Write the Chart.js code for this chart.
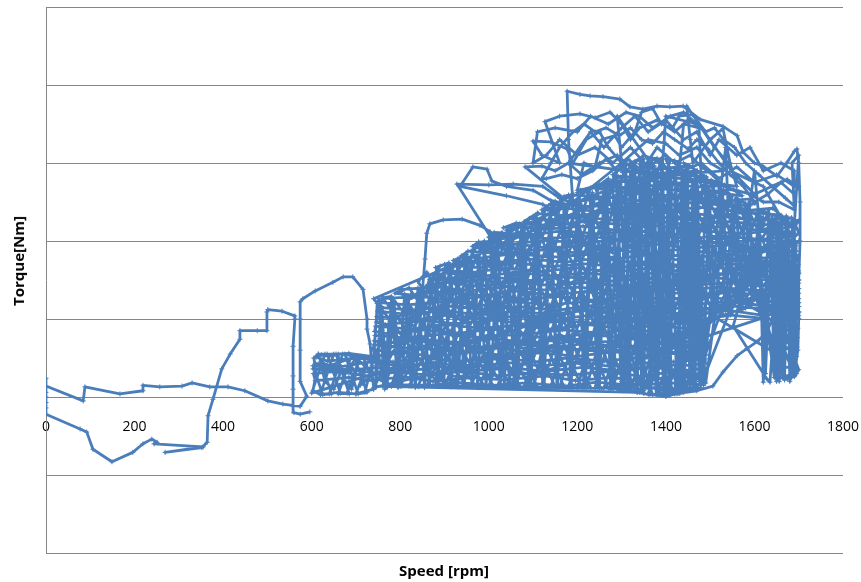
<!DOCTYPE html>
<html>
<head>
<meta charset="utf-8">
<title>Torque vs Speed</title>
<script src="https://cdn.jsdelivr.net/npm/chart.js@4.4.1/dist/chart.umd.min.js"></script>
<style>
    body { margin: 0; background: #fff; }
    .wrap { position: relative; width: 861px; height: 582px; }
    .axis-title {
        position: absolute;
        font: bold 15px 'Open Sans', sans-serif;
        color: #000;
        white-space: nowrap;
    }
    #yTitle { left: 18px; top: 261px; transform: translate(-50%, -50%) rotate(-90deg); }
    #xTitle { left: 444px; top: 570px; transform: translate(-50%, -50%); }
</style>
</head>
<body>
<div class="wrap">
    <canvas id="torqueChart" width="861" height="582"></canvas>
    <div class="axis-title" id="yTitle">Torque[Nm]</div>
    <div class="axis-title" id="xTitle">Speed [rpm]</div>
</div>
<script>
/* ============================
   Speed / torque trace
   ============================ */

const speedTicks = [0, 200, 400, 600, 800, 1000, 1200, 1400, 1600, 1800];
const torqueGrid = [-200, -100, 0, 100, 200, 300, 400, 500];

// [rpm, torque] pairs in drive order
const launchTrace = [
    [596,-19],[574,-22],[560,-20],[558,-12],[558,10],[558,27],[558,65],[562,100],[562,104],[533,110],
    [501,112],[499,109],[499,85],[477,85],[438,85],[438,74],[416,55],[397,36],[377,-3],[366,-24],
    [364,-58],[352,-65],[269,-71],[355,-64],[244,-60],[251,-58],[239,-54],[219,-60],[196,-71],[149,-83],
    [106,-67],[92,-45],[77,-41],[0,-22],[0,-14],[0,-7],[0,0],[0,6],[0,24],[0,14],
    [84,-5],[88,13],[167,4],[219,8],[219,15],[257,13],[307,14],[330,18],[370,13],[411,13],
    [449,8],[501,-5],[535,-9],[574,-12],[589,1],[574,20],[574,60],[574,100],[574,122],[580,126],
    [608,136],[648,147],[671,154],[693,154],[716,138],[725,100],[725,87],[732,68],[736,40],[740,10]
];

const lowBand = [
    [740,10],[700,4],[660,6],[620,3],[603,8],[610,30],[605,50],[615,55],[640,52],[660,55],
    [664,30],[650,10],[630,20],[620,45],[640,40],[680,48],[700,30],[690,10],[670,25],[700,50],
    [720,40],[710,15],[730,25],[740,50],[745,90],[748,120],[752,126],[755,100],[750,60],[760,20],[770,14]
];

const sweepRight = [
    [770,14],[752,118],[765,10],[780,125],[795,12],[810,132],[825,14],[840,140],[855,12],[870,152],
    [885,15],[900,164],[915,13],[930,172],[945,16],[960,180],[975,12],[990,195],[1005,15],[1020,205],
    [1035,14],[1050,212],[1065,16],[1080,220],[1095,12],[1110,228],[1125,14],[1140,238],[1155,12],[1170,244],
    [1185,15],[1200,250],[1215,12],[1230,258],[1245,13],[1260,268],[1275,10],[1290,280],[1305,8],[1320,288],
    [1335,6],[1350,295],[1365,5],[1380,292],[1395,2],[1410,290],[1425,4],[1440,285],[1455,10],[1465,278],
    [1475,20],[1490,268],[1505,105],[1520,258],[1535,110],[1550,250],[1565,115],[1580,245],[1595,120],[1610,238],
    [1625,30],[1640,232],[1650,20],[1660,230],[1668,22],[1676,228],[1684,25],[1690,225],[1695,30]
];

const sweepLeft = [
    [1688,220],[1680,20],[1672,232],[1664,25],[1655,210],[1645,40],[1632,240],[1620,19],[1612,200],[1600,125],
    [1588,250],[1572,112],[1558,255],[1542,105],[1528,262],[1512,100],[1497,270],[1485,15],[1470,282],[1460,19],
    [1448,288],[1436,6],[1422,292],[1408,3],[1392,298],[1378,4],[1362,300],[1346,8],[1330,292],[1314,9],
    [1298,282],[1282,11],[1266,272],[1250,12],[1234,262],[1218,14],[1202,252],[1186,12],[1170,246],[1154,15],
    [1138,236],[1122,13],[1106,226],[1090,16],[1074,218],[1058,12],[1042,210],[1026,15],[1010,200],[994,14],
    [978,185],[962,16],[946,175],[930,13],[914,165],[898,15],[882,152],[866,14],[850,140],[834,12],
    [818,128],[802,14],[786,122],[770,12],[758,116],[745,14]
];

// back-and-forth passes through the dense core, low torque upwards
const corePasses = [
    [745,14],[1335,6],[1362,3],[1400,1],[1428,5],[1468,9],
    [1478,12],[1431,8],[1392,13],[1338,10],[1296,14],[1255,11],
    [765,16],[842,13],[921,19],[1007,15],[1083,18],[1172,14],[1244,19],[1327,15],[1409,18],[1478,16],
    [1486,23],[1416,27],[1356,20],[1277,25],[1196,21],[1127,27],[1036,22],[962,25],[874,20],[806,26],[737,21],[684,25],[608,21],
    [604,30],[657,33],[722,27],[793,32],[866,28],[938,33],[1025,27],[1097,31],[1184,28],[1262,33],[1338,27],[1416,32],[1489,29],
    [1491,37],[1428,33],[1367,39],[1287,34],[1213,38],[1126,33],[1055,37],[968,34],[893,39],[812,33],[744,38],[668,33],[603,36],
    [609,43],[667,39],[732,45],[803,40],[876,44],[955,38],[1043,44],[1118,40],[1204,45],[1277,39],[1362,44],[1436,40],[1490,43],
    [1489,49],[1417,45],[1344,51],[1262,46],[1176,50],[1104,45],[1016,51],[943,46],[857,50],[784,45],[703,50],[636,46],[610,51],
    [622,54],[684,56],[734,52],[806,57],[877,52],[963,58],[1037,53],[1124,57],[1196,52],[1284,58],[1357,53],[1445,57],[1491,54],
    [1490,61],[1423,57],[1336,63],[1263,58],[1177,62],[1103,57],[1016,63],[944,58],[856,62],[783,57],[738,61],
    [741,67],[817,63],[904,69],[976,64],[1064,68],[1137,63],[1226,69],[1296,64],[1384,68],[1455,63],[1492,66],
    [1491,73],[1406,69],[1334,75],[1246,70],[1173,74],[1087,69],[1014,75],[926,70],[853,74],[767,69],[741,72],
    [743,79],[823,75],[896,81],[984,76],[1057,80],[1144,75],[1216,81],[1304,76],[1377,80],[1464,75],[1493,78],
    [1491,85],[1413,81],[1326,87],[1254,82],[1166,86],[1094,81],[1006,87],[934,82],[846,86],[773,81],[742,84],
    [745,91],[824,87],[897,93],[985,88],[1057,92],[1145,87],[1217,93],[1305,88],[1377,92],[1465,87],[1495,90],
    [1497,97],[1406,93],[1334,99],[1246,94],[1174,98],[1086,93],[1014,99],[926,94],[854,98],[766,93],[746,96],
    [747,103],[833,99],[906,105],[993,100],[1066,104],[1153,99],[1226,105],[1313,100],[1386,104],[1473,99],[1546,105],[1633,100],[1700,104],
    [1701,109],[1616,105],[1543,111],[1456,106],[1383,110],[1296,105],[1223,111],[1136,106],[1063,110],[976,105],[903,111],[816,106],[749,110],
    [751,115],[834,111],[906,117],[994,112],[1066,116],[1154,111],[1226,117],[1314,112],[1386,116],[1474,111],[1546,117],[1634,112],[1700,116],
    [1700,121],[1617,117],[1544,123],[1457,118],[1384,122],[1297,117],[1224,123],[1137,118],[1064,122],[977,117],[904,123],[817,118],[753,121],
    [762,126],[843,129],[918,124],[1004,130],[1077,125],[1163,129],[1238,124],[1322,130],[1397,125],[1483,129],[1558,124],[1642,130],[1700,126],
    [1700,133],[1624,130],[1537,135],[1463,131],[1377,136],[1304,130],[1217,135],[1143,131],[1057,136],[983,130],[897,135],[823,131],[788,133],
    [805,138],[884,141],[957,136],[1044,142],[1117,137],[1204,141],[1277,136],[1364,142],[1437,137],[1524,141],[1597,136],[1684,142],[1700,139],
    [1700,146],[1616,142],[1544,147],[1456,143],[1384,148],[1296,142],[1224,147],[1136,143],[1064,148],[976,142],[904,147],[862,144],
    [866,151],[947,148],[1016,153],[1107,149],[1176,154],[1267,148],[1336,153],[1427,149],[1496,154],[1587,148],[1656,153],[1700,150],
    [1700,158],[1613,154],[1547,159],[1453,155],[1387,160],[1293,154],[1227,159],[1133,155],[1067,160],[973,154],[907,159],[873,156],
    [884,163],[963,160],[1036,165],[1123,161],[1196,166],[1283,160],[1356,165],[1443,161],[1516,166],[1603,160],[1676,165],[1699,162],
    [1699,170],[1617,166],[1543,171],[1457,167],[1383,172],[1297,166],[1223,171],[1137,167],[1063,172],[977,166],[914,169],
    [932,175],[1013,172],[1086,177],[1173,173],[1246,178],[1333,172],[1406,177],[1493,173],[1566,178],[1653,172],[1697,175],
    [1696,182],[1617,178],[1543,183],[1457,179],[1383,184],[1297,178],[1223,183],[1137,179],[1063,184],[977,178],[938,181],
    [953,187],[1034,184],[1107,189],[1194,185],[1267,190],[1354,184],[1427,189],[1514,185],[1587,190],[1667,184],[1695,187],
    [1694,194],[1616,190],[1544,195],[1456,191],[1384,196],[1296,190],[1224,195],[1136,191],[1064,196],[983,190],[963,193],
    [977,199],[1053,196],[1126,201],[1213,197],[1286,202],[1373,196],[1446,201],[1533,197],[1606,202],[1690,196],
    [1690,206],[1613,202],[1527,207],[1453,203],[1367,208],[1293,202],[1207,207],[1133,203],[1047,208],[1003,204],
    [1012,211],[1093,208],[1166,213],[1253,209],[1326,214],[1413,208],[1486,213],[1573,209],[1646,214],[1689,210],
    [1688,218],[1607,214],[1533,219],[1447,215],[1373,220],[1287,214],[1213,219],[1127,215],[1053,220],[1033,217],
    [1062,223],[1143,220],[1216,225],[1303,221],[1376,226],[1463,220],[1536,225],[1623,221],[1686,224],
    [1684,230],[1607,226],[1533,231],[1447,227],[1373,232],[1287,226],[1213,231],[1127,227],[1092,229],
    [1112,235],[1193,232],[1266,237],[1353,233],[1426,238],[1513,232],[1586,237],[1660,233],
    [1641,242],[1563,238],[1477,243],[1403,239],[1317,244],[1243,238],[1157,243],[1132,240],
    [1152,247],[1233,244],[1306,249],[1393,245],[1466,250],[1553,244],[1601,248],
    [1592,254],[1507,250],[1433,255],[1347,251],[1273,256],[1187,250],[1166,253],
    [1192,259],[1273,256],[1346,261],[1433,257],[1506,262],[1572,258],
    [1552,266],[1467,262],[1393,267],[1307,263],[1233,268],[1207,265],
    [1242,271],[1323,268],[1396,273],[1483,269],[1532,272],
    [1502,278],[1417,274],[1343,279],[1272,276],
    [1292,283],[1373,280],[1437,285],[1492,282],
    [1471,290],[1397,286],[1333,291],[1302,288],
    [1322,295],[1383,292],[1442,296]
];

// strokes falling to the right, top edge to bottom edge
const fallingStrokes = [
    [740,126],[890,14],[910,14],[760,127],[780,129],[930,14],[950,14],[800,135],[820,140],[970,14],
    [990,14],[840,148],[860,160],[1010,14],[1030,14],[880,166],[900,170],[1050,14],[1070,14],[920,175],
    [940,180],[1090,14],[1110,13],[960,187],[980,196],[1130,13],[1150,13],[1000,205],[1020,209],[1170,13],
    [1190,13],[1040,214],[1060,219],[1210,12],[1230,12],[1080,225],[1100,232],[1250,12],[1270,11],[1120,240],
    [1140,248],[1290,10],[1310,9],[1160,255],[1180,259],[1330,7],[1350,5],[1200,262],[1220,266],[1370,3],
    [1390,2],[1240,270],[1260,275],[1410,3],[1430,5],[1280,285],[1300,295],[1450,8],[1470,13],[1320,300],
    [1340,305],[1490,18],[1510,103],[1360,306],[1380,306],[1530,105],[1550,108],[1400,305],[1420,303],[1570,112],
    [1590,117],[1440,300],[1460,295],[1610,121],[1630,122],[1480,285],[1500,275],[1650,60],[1670,25],[1520,268],
    [1540,262],[1690,26],[1700,35],[1560,255],[1580,248],[1700,100]
];

// strokes rising to the right, bottom edge to top edge
const risingStrokes = [
    [1690,140],[740,12],[890,168],[910,172],[760,14],[780,14],[930,177],[950,183],[800,14],[820,14],
    [970,191],[990,200],[840,14],[860,14],[1010,207],[1030,211],[880,14],[900,14],[1050,216],[1070,222],
    [920,14],[940,14],[1090,228],[1110,236],[960,14],[980,14],[1130,244],[1150,251],[1000,14],[1020,14],
    [1170,257],[1190,260],[1040,14],[1060,14],[1210,264],[1230,268],[1080,14],[1100,13],[1250,272],[1270,280],
    [1120,13],[1140,13],[1290,290],[1310,297],[1160,13],[1180,13],[1330,302],[1350,305],[1200,12],[1220,12],
    [1370,306],[1390,305],[1240,12],[1260,11],[1410,304],[1430,301],[1280,11],[1300,10],[1450,297],[1470,290],
    [1320,8],[1340,6],[1490,280],[1510,271],[1360,4],[1380,3],[1530,265],[1550,258],[1400,2],[1420,4],
    [1570,251],[1590,245],[1440,6],[1460,10],[1610,240],[1630,236],[1480,16],[1500,102],[1650,232],[1670,230],
    [1520,104],[1540,106],[1690,227],[1700,226],[1560,110],[1580,114],[1700,200]
];

const lowWeave = [
    [600,5],[630,55],[650,55],[620,4],[640,4],[670,55],[690,53],[660,4],[680,5],[710,52],
    [730,50],[700,4],[720,6],[745,60],[745,12],[715,52],[695,53],[725,6],[705,4],[675,55],
    [655,55],[685,4],[665,5],[635,55],[615,55],[645,4],[625,3],[603,40]
];

const levelSweeps = [
    [760,30],[850,42],[930,25],[1010,40],[1100,28],[1190,45],[1280,30],[1370,40],[1450,28],[1480,60],[1470,100],
    [1500,110],[1560,125],[1610,110],[1640,70],[1690,60],[1660,80],[1620,135],[1540,128],[1470,70],[1400,60],
    [1320,78],[1240,60],[1160,80],[1080,62],[1000,80],[920,60],[840,75],[770,62],
    [775,100],[860,115],[940,98],[1020,120],[1100,102],[1180,122],[1260,100],[1340,120],[1420,105],[1500,130],
    [1580,140],[1660,115],[1698,120],
    [1700,160],[1640,150],[1570,170],[1500,150],[1420,168],[1340,145],[1260,165],[1180,145],[1100,165],[1020,145],
    [950,162],[880,140],[820,125],
    [900,160],[960,180],[1040,195],[1120,180],[1200,200],[1280,185],[1360,205],[1440,190],[1520,205],[1600,190],
    [1680,200],[1700,210],
    [1690,225],[1620,215],[1550,235],[1480,215],[1400,240],[1330,220],[1260,240],[1190,220],[1120,228],[1050,205],[1000,200],
    [1150,238],[1220,255],[1290,270],[1350,258],[1420,275],[1480,255],[1560,245],[1620,230]
];

const lowerEdge = [
    [1620,230],[1600,190],[1552,91],[1628,23],[1635,19],[1640,60],[1628,103],[1493,78],[1470,60],[1500,106],
    [1642,58],[1660,30],[1674,23],[1690,30],[1680,90],[1640,100],[1628,83],[1606,71],[1583,62],[1561,53],
    [1529,32],[1506,14],[1470,8],[1432,5],[1400,1],[1380,4],[1416,6]
];

const denseColumns = [
    [1300,20],[1310,290],[1318,10],[1326,295],[1334,8],[1342,298],[1350,5],[1358,300],[1366,4],[1374,296],
    [1382,3],[1390,294],[1398,2],[1405,290],[1412,4],
    [1430,5],[1436,285],[1442,8],[1448,282],[1454,12],[1460,278],[1466,18],[1472,270],[1476,20],
    [1490,120],[1620,125],
    [1645,25],[1650,225],[1656,20],[1662,232],[1668,22],[1674,228],[1680,24],[1686,226],[1692,28],
    [1655,24],[1690,30],[1693,40],[1652,36],[1654,48],[1695,52],[1696,64],[1652,60],[1654,72],[1697,76],
    [1698,88],[1650,84],[1648,96],[1700,100]
];

const diagonals = [
    [1690,200],[1560,140],[1480,260],[1350,8],[1150,240],[880,14],[900,165],[1100,12],[1200,250],[1420,5],
    [1450,280],[1300,10],[1280,270],[1050,14],[1000,200],[780,14]
];

const upperTraces = [
    [851,142],[856,177],[860,210],[867,222],[897,227],[940,228],[980,220],[1003,212],[1030,190],
    [1010,200],[928,273],[1000,272],[1055,273],[1122,270],[1160,255],[1180,230],
    [1170,230],[1122,247],[1040,258],[935,270],[964,295],[996,292],[1007,277],[1040,270],[1100,265],[1140,252],[1190,245],
    [1082,295],[1120,296],[1150,290],[1180,300],[1210,285],[1250,300],[1290,310],[1320,295],[1350,310],[1390,300],[1420,285],
    [1530,290],[1500,300],[1470,320],[1430,310],[1400,325],[1360,330],[1330,315],[1300,300],[1270,320],[1250,340],
    [1220,330],[1190,300],[1177,318],[1140,327],[1100,328],[1120,310],[1160,300],
    [1127,353],[1160,360],[1206,363],[1240,358],[1274,365],[1300,350],[1320,330],[1340,345],[1380,355],[1420,340],
    [1450,355],[1480,345],[1510,320],[1540,300],[1560,280],
    [1447,373],[1455,330],[1461,300],[1500,330],[1529,344],[1545,300],[1560,270],
    [1180,300],[1230,340],[1260,320],[1300,345],[1330,360],[1360,340],[1400,355],[1440,330],[1470,340],[1500,310],
    [1520,330],[1560,310],[1590,320],[1620,290],[1660,300],[1690,290],
    [1690,270],[1650,285],[1600,275],[1560,295],[1520,280],[1480,300],[1440,290],[1400,310],[1360,295],[1320,320],
    [1280,300],[1240,320],[1200,310],[1160,330],[1130,310],[1100,300],
    [1110,340],[1150,345],[1200,340],[1230,360],[1270,350],[1310,365],[1340,360],[1370,345],[1410,360],[1440,365],[1470,350],
    [1400,360],[1390,280],[1290,360],[1300,300],
    [1190,250],[1180,330],[1177,392],[1206,388],[1229,386],[1258,385],[1296,382],[1319,372],[1348,369],[1380,373],
    [1409,372],[1439,373],[1477,356],[1529,347],[1561,335],[1574,314],[1600,300],[1619,296],[1651,283],[1674,301],
    [1690,315],[1696,318]
];

const rightEdge = [
    [1700,300],[1703,250],[1703,200],[1700,150],[1700,100],[1698,60],[1693,40],[1685,30],
    [1690,200],[1620,270],[1552,288],[1600,260],[1674,279],[1700,270]
];

// extra tangles in the sparse band above the core
const upperTangles = [
    [1690,260],[1660,275],[1630,260],[1600,250],[1575,270],[1545,285],[1520,300],[1495,318],[1470,330],[1450,318],
    [1420,330],[1395,340],[1370,325],[1345,330],[1320,345],[1295,335],[1265,345],[1240,340],[1215,350],[1190,340],
    [1160,320],[1140,300],[1120,280],
    [1130,280],[1165,285],[1200,280],[1235,290],[1265,305],[1290,290],[1315,305],[1345,290],[1380,320],[1420,300],
    [1455,310],[1480,295],[1505,285],[1530,270],[1560,265],[1590,260],[1620,250],[1655,250],[1690,240],
    [1685,300],[1700,310],[1690,220],[1610,230],[1600,290],[1585,230],[1540,250],[1535,320],[1520,250],[1480,280],
    [1475,345],[1440,350],[1430,290],
    [1200,265],[1215,300],[1240,295],[1255,330],[1285,335],[1300,320],[1330,340],[1345,365],[1370,370],[1390,350],
    [1415,345],[1430,360],[1460,362],[1490,340],[1510,345],[1530,330],[1555,320],[1580,300],[1610,285],[1640,270],
    [1670,255],[1690,245]
];

const trace = [
    ...launchTrace, ...lowBand, ...sweepRight, ...sweepLeft, ...corePasses,
    ...fallingStrokes, ...risingStrokes, ...lowWeave, ...levelSweeps,
    ...lowerEdge, ...denseColumns, ...diagonals, ...upperTraces, ...rightEdge, ...upperTangles
].map(([x, y]) => ({ x, y }));

const LINE = '#4A7EBB';
const GRID = '#868686';

new Chart(document.getElementById('torqueChart'), {
    type: 'scatter',
    data: {
        datasets: [{
            data: trace,
            showLine: true,
            borderColor: LINE,
            borderWidth: 2.8,
            borderJoinStyle: 'round',
            tension: 0,
            pointStyle: 'cross',
            pointRadius: 2.5,
            pointBorderWidth: 1,
            pointBorderColor: LINE,
            pointBackgroundColor: LINE
        }]
    },
    options: {
        responsive: false,
        animation: false,
        layout: { padding: { left: 46, top: 7, right: 18, bottom: 29 } },
        plugins: {
            legend: { display: false },
            tooltip: { enabled: false }
        },
        scales: {
            x: {
                type: 'linear',
                position: { y: 0 },
                min: 0,
                max: 1800,
                afterBuildTicks: s => { s.ticks = speedTicks.map(v => ({ value: v })); },
                afterFit: s => { s.paddingLeft = 0; s.paddingRight = 0; },
                grid: { display: false },
                border: { display: false },
                ticks: {
                    padding: 14,
                    color: '#000',
                    maxRotation: 0,
                    font: { family: 'Open Sans', size: 14 },
                    callback: v => String(v)
                }
            },
            y: {
                type: 'linear',
                min: -200,
                max: 500,
                afterBuildTicks: s => { s.ticks = torqueGrid.map(v => ({ value: v })); },
                ticks: { display: false },
                grid: { color: GRID, lineWidth: 1, drawTicks: false },
                border: { color: GRID, width: 1 }
            }
        }
    }
});
</script>
</body>
</html>
